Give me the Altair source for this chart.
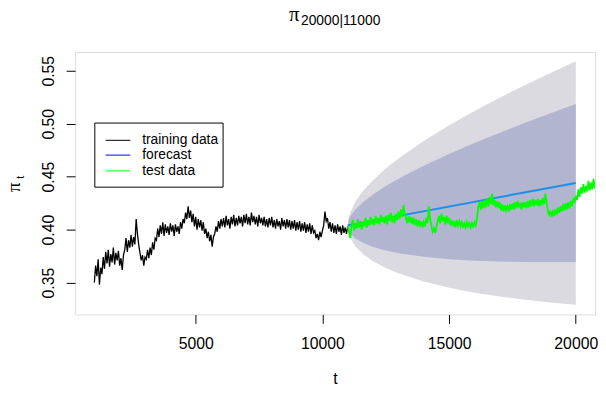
import altair as alt
import pandas as pd

# ---------------- data ----------------
train_t = list(range(1000, 11001, 50))
train_v = [0.350, 0.366, 0.356, 0.372, 0.348, 0.364, 0.358, 0.374, 0.363, 0.379,
           0.368, 0.381, 0.365, 0.377, 0.369, 0.383, 0.367, 0.378, 0.371, 0.380,
           0.366, 0.373, 0.362, 0.376, 0.381, 0.392, 0.379, 0.390, 0.383, 0.395,
           0.384, 0.393, 0.386, 0.410, 0.396, 0.386, 0.378, 0.371, 0.376, 0.366,
           0.374, 0.372, 0.381, 0.373, 0.383, 0.376, 0.388, 0.381, 0.392, 0.390,
           0.401, 0.393, 0.404, 0.396, 0.407, 0.394, 0.405, 0.397, 0.403, 0.395,
           0.406, 0.398, 0.404, 0.394, 0.405, 0.398, 0.403, 0.396, 0.407, 0.401,
           0.410, 0.406, 0.416, 0.410, 0.422, 0.411, 0.418, 0.407, 0.415, 0.403,
           0.412, 0.400, 0.410, 0.402, 0.409, 0.399, 0.407, 0.396, 0.401, 0.392,
           0.398, 0.389, 0.395, 0.384, 0.393, 0.396, 0.403, 0.398, 0.408, 0.401,
           0.410, 0.403, 0.411, 0.402, 0.413, 0.404, 0.410, 0.401, 0.412, 0.405,
           0.414, 0.403, 0.411, 0.404, 0.413, 0.406, 0.412, 0.403, 0.414, 0.406,
           0.415, 0.405, 0.412, 0.404, 0.416, 0.407, 0.413, 0.405, 0.412, 0.403,
           0.414, 0.406, 0.411, 0.404, 0.412, 0.403, 0.410, 0.402, 0.411, 0.404,
           0.412, 0.402, 0.409, 0.401, 0.410, 0.403, 0.408, 0.400, 0.411, 0.403,
           0.409, 0.401, 0.410, 0.402, 0.409, 0.400, 0.408, 0.401, 0.409, 0.399,
           0.407, 0.400, 0.408, 0.398, 0.406, 0.399, 0.407, 0.397, 0.405, 0.398,
           0.406, 0.396, 0.404, 0.397, 0.399, 0.392, 0.396, 0.390, 0.398, 0.393,
           0.399, 0.404, 0.417, 0.408, 0.411, 0.401, 0.407, 0.398, 0.406, 0.397,
           0.404, 0.396, 0.405, 0.398, 0.403, 0.395, 0.404, 0.397, 0.402, 0.396,
           0.403]

test_t = list(range(11000, 20901, 50))
test_v = [0.403, 0.398, 0.392, 0.404, 0.409, 0.399, 0.406, 0.401, 0.410, 0.402,
          0.408, 0.400, 0.407, 0.403, 0.411, 0.402, 0.409, 0.404, 0.412, 0.405,
          0.410, 0.404, 0.413, 0.406, 0.411, 0.405, 0.414, 0.407, 0.412, 0.406,
          0.413, 0.405, 0.414, 0.408, 0.416, 0.407, 0.413, 0.406, 0.415, 0.409,
          0.417, 0.410, 0.419, 0.412, 0.423, 0.414, 0.411, 0.406, 0.413, 0.407,
          0.412, 0.405, 0.411, 0.404, 0.410, 0.403, 0.409, 0.404, 0.408, 0.402,
          0.407, 0.403, 0.411, 0.406, 0.422, 0.410, 0.404, 0.398, 0.401, 0.397,
          0.403, 0.408, 0.413, 0.406, 0.415, 0.408, 0.412, 0.405, 0.413, 0.406,
          0.411, 0.404, 0.409, 0.403, 0.408, 0.402, 0.409, 0.404, 0.408, 0.403,
          0.407, 0.403, 0.406, 0.402, 0.407, 0.403, 0.406, 0.402, 0.406, 0.403,
          0.407, 0.404, 0.410, 0.421, 0.426, 0.419, 0.427, 0.420, 0.428, 0.421,
          0.429, 0.422, 0.431, 0.424, 0.434, 0.423, 0.428, 0.421, 0.427, 0.420,
          0.426, 0.418, 0.424, 0.417, 0.423, 0.418, 0.422, 0.417, 0.424, 0.419,
          0.425, 0.419, 0.426, 0.420, 0.427, 0.421, 0.425, 0.419, 0.426, 0.421,
          0.426, 0.420, 0.427, 0.421, 0.428, 0.422, 0.429, 0.422, 0.428, 0.423,
          0.429, 0.422, 0.428, 0.423, 0.430, 0.424, 0.434, 0.425, 0.418, 0.414,
          0.418, 0.412, 0.417, 0.413, 0.419, 0.414, 0.421, 0.416, 0.422, 0.417,
          0.424, 0.418, 0.425, 0.419, 0.426, 0.420, 0.427, 0.422, 0.430, 0.425,
          0.432, 0.428, 0.438, 0.431, 0.440, 0.434, 0.443, 0.435, 0.441, 0.436,
          0.446, 0.437, 0.444, 0.438, 0.448, 0.439, 0.446, 0.440, 0.445]

fc_t = [11000, 20000]
fc_v = [0.404, 0.444]

band_t = [11000, 11030, 11100, 11300, 11600, 12000, 12500, 13000, 14000,
          15000, 16000, 17000, 18000, 19000, 20000]
outer_hi = [0.4040, 0.4107, 0.4165, 0.4263, 0.4364, 0.4467, 0.4576, 0.4671,
            0.4837, 0.4985, 0.5119, 0.5246, 0.5365, 0.5480, 0.5590]
outer_lo = [0.4040, 0.3975, 0.3923, 0.3843, 0.3770, 0.3701, 0.3638, 0.3587,
            0.3509, 0.3451, 0.3405, 0.3368, 0.3337, 0.3312, 0.3290]
inner_hi = [0.4040, 0.4084, 0.4123, 0.4189, 0.4259, 0.4332, 0.4411, 0.4480,
            0.4603, 0.4715, 0.4817, 0.4915, 0.5008, 0.5098, 0.5185]
inner_lo = [0.4040, 0.3998, 0.3965, 0.3917, 0.3875, 0.3836, 0.3803, 0.3778,
            0.3743, 0.3721, 0.3707, 0.3699, 0.3694, 0.3694, 0.3695]

x_ticks = [5000, 10000, 15000, 20000]
y_ticks = [0.35, 0.40, 0.45, 0.50, 0.55]

legend_labels = ["training data", "forecast", "test data"]
legend_colors = ["black", "blue", "#00ff00"]

title_main, title_sub = "π", "20000|11000"
ylab_main, ylab_sub = "π", "t"
xlab = "t"

# ---------------- chart ----------------
W, H = 527, 266
FONT = "Liberation Sans"

train = pd.DataFrame({"t": train_t, "v": train_v})
test = pd.DataFrame({"t": test_t, "v": test_v})
fc = pd.DataFrame({"t": fc_t, "v": fc_v})
band = pd.DataFrame({"t": band_t, "olo": outer_lo, "ohi": outer_hi,
                     "ilo": inner_lo, "ihi": inner_hi})

xs = alt.Scale(domain=[240, 20760], nice=False, zero=False)
ys = alt.Scale(domain=[0.3199, 0.5677], nice=False, zero=False)

xax = alt.Axis(values=x_ticks, format="d", title=None, grid=False, domain=False,
               tickSize=9, tickColor="black", labelFont=FONT, labelFontSize=16,
               labelColor="black", labelPadding=13)
yax = alt.Axis(values=y_ticks, format=".2f", title=None, grid=False, domain=False,
               tickSize=9, tickColor="black", labelFont=FONT, labelFontSize=16,
               labelColor="black", labelAngle=270, labelAlign="center",
               labelBaseline="bottom", labelPadding=10)

X = alt.X("t:Q", scale=xs, axis=xax)
Y = alt.Y("v:Q", scale=ys, axis=yax)

outer = alt.Chart(band).mark_area(color="#dadae0", opacity=1).encode(
    x=alt.X("t:Q", scale=xs, axis=xax), y=alt.Y("olo:Q", scale=ys, axis=yax), y2="ohi:Q")
inner = alt.Chart(band).mark_area(color="#b1b5d0", opacity=1).encode(
    x=alt.X("t:Q", scale=xs), y=alt.Y("ilo:Q", scale=ys), y2="ihi:Q")
fline = alt.Chart(fc).mark_line(color="#1e8fe6", strokeWidth=2).encode(x=X, y=Y)
tline = alt.Chart(train).mark_line(color="black", strokeWidth=1.3).encode(x=X, y=Y)
gline = alt.Chart(test).mark_line(color="#00ff00", strokeWidth=1.8, clip=True).encode(x=X, y=Y)

one = pd.DataFrame({"a": [0]})
texts = []
texts.append(alt.Chart(one).mark_text(font="Liberation Serif", fontSize=21, align="center",
                                      baseline="alphabetic", color="black").encode(
    x=alt.value(222), y=alt.value(-31), text=alt.value(title_main)))
texts.append(alt.Chart(one).mark_text(font=FONT, fontSize=14, align="left",
                                      baseline="alphabetic", color="black").encode(
    x=alt.value(229), y=alt.value(-27), text=alt.value(title_sub)))
texts.append(alt.Chart(one).mark_text(font="Liberation Serif", fontSize=19, align="center",
                                      baseline="alphabetic", angle=270, color="black").encode(
    x=alt.value(-56), y=alt.value(137), text=alt.value(ylab_main)))
texts.append(alt.Chart(one).mark_text(font=FONT, fontSize=11, align="center",
                                      baseline="alphabetic", angle=270, color="black").encode(
    x=alt.value(-52), y=alt.value(127), text=alt.value(ylab_sub)))
texts.append(alt.Chart(one).mark_text(font=FONT, fontSize=16, align="center",
                                      baseline="alphabetic", color="black").encode(
    x=alt.value(264), y=alt.value(336), text=alt.value(xlab)))

# legend
leg = [alt.Chart(one).mark_rect(fill="white", stroke="black", strokeWidth=1).encode(
    x=alt.value(20), x2=alt.value(150), y=alt.value(72), y2=alt.value(137))]
rows = [89.5, 104.5, 120.5]
for lab, col, ry in zip(legend_labels, legend_colors, rows):
    leg.append(alt.Chart(one).mark_rule(color=col, strokeWidth=1).encode(
        x=alt.value(31), x2=alt.value(56), y=alt.value(ry)))
    leg.append(alt.Chart(one).mark_text(font=FONT, fontSize=14, align="left",
                                        baseline="middle", color="black").encode(
        x=alt.value(68), y=alt.value(ry), text=alt.value(lab)))

chart = alt.layer(outer, inner, fline, tline, gline, *leg, *texts).properties(
    width=W, height=H,
    autosize=alt.AutoSizeParams(type="none"),
    padding={"left": 68, "top": 42, "right": 3, "bottom": 77},
).configure_view(stroke="black", strokeWidth=1).configure(background="white")

chart.save("out.html", embed_options={"renderer": "svg", "actions": False})
